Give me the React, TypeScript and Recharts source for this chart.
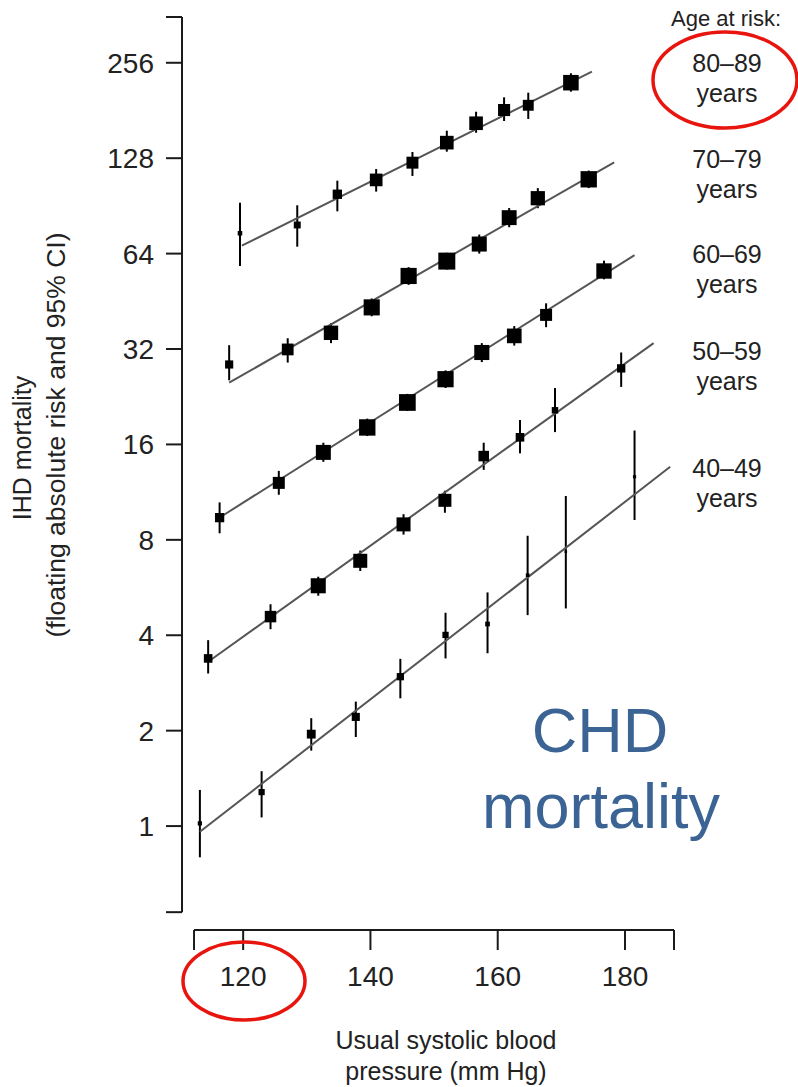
import { ComposedChart, XAxis, YAxis, Scatter, ErrorBar, ReferenceLine } from 'recharts';

// Floating absolute risk of IHD death by usual systolic blood pressure,
// one group of ten points per decade of age at risk.
const sbp8089 = [119.5, 128.5, 134.8, 140.9, 146.6, 152.0, 156.6, 161.0, 164.8, 171.5];
const risk8089 = [74.2, 78.8, 98.5, 109.3, 123.9, 143.3, 165.0, 181.6, 188.0, 221.5];
const lo8089 = [58.5, 67.3, 87.0, 100.4, 112.5, 134.2, 154.0, 167.7, 170.2, 207.5];
const hi8089 = [92.6, 90.9, 108.7, 118.3, 133.9, 156.3, 179.4, 199.2, 206.0, 237.2];

const sbp7079 = [117.8, 127.0, 133.8, 140.2, 146.0, 152.0, 157.1, 161.8, 166.3, 174.3];
const risk7079 = [28.6, 31.9, 36.0, 43.3, 54.4, 60.6, 68.6, 83.1, 95.7, 109.8];
const lo7079 = [25.5, 29.0, 33.4, 40.6, 51.0, 57.0, 64.0, 77.5, 89.0, 103.0];
const hi7079 = [32.9, 34.6, 38.6, 46.2, 58.0, 64.4, 73.5, 89.1, 103.0, 117.0];

const sbp6069 = [116.3, 125.6, 132.6, 139.5, 145.8, 151.8, 157.5, 162.6, 167.6, 176.7];
const risk6069 = [9.4, 12.1, 15.1, 18.1, 21.7, 25.7, 31.2, 35.2, 41.0, 56.4];
const lo6069 = [8.39, 11.1, 14.1, 17.0, 20.4, 24.1, 29.1, 32.8, 37.5, 53.1];
const hi6069 = [10.5, 13.2, 16.2, 19.3, 23.1, 27.4, 33.4, 37.8, 44.6, 60.8];

const sbp5059 = [114.5, 124.3, 131.8, 138.4, 145.2, 151.7, 157.8, 163.5, 169.0, 179.4];
const risk5059 = [3.38, 4.58, 5.73, 6.87, 8.95, 10.66, 14.7, 16.85, 20.5, 27.8];
const lo5059 = [3.03, 4.18, 5.33, 6.38, 8.31, 9.74, 13.3, 15.0, 17.5, 24.3];
const hi5059 = [3.86, 5.01, 6.12, 7.4, 9.64, 11.43, 16.2, 19.1, 24.1, 31.2];

const sbp4049 = [113.2, 122.9, 130.7, 137.7, 144.7, 151.8, 158.4, 164.7, 170.7, 181.5];
const risk4049 = [1.02, 1.28, 1.95, 2.21, 2.96, 4.01, 4.34, 6.19, 7.34, 12.65];
const lo4049 = [0.797, 1.065, 1.73, 1.91, 2.53, 3.38, 3.51, 4.63, 4.86, 9.24];
const hi4049 = [1.3, 1.49, 2.19, 2.47, 3.37, 4.71, 5.46, 8.24, 11.0, 17.7];

// fitted log-linear trend, start and end of each line
const fitSbp8089 = [119.8, 174.8];
const fitRisk8089 = [67.8, 240.0];
const fitSbp7079 = [117.8, 178.3];
const fitRisk7079 = [25.05, 124.2];
const fitSbp6069 = [116.5, 181.5];
const fitRisk6069 = [9.46, 63.3];
const fitSbp5059 = [114.5, 184.5];
const fitRisk5059 = [3.3, 33.4];
const fitSbp4049 = [113.2, 187.1];
const fitRisk4049 = [0.96, 13.6];

const ageBands = ['80–89', '70–79', '60–69', '50–59', '40–49'];
const yTickLabels = [1, 2, 4, 8, 16, 32, 64, 128, 256];
const xTickLabels = [120, 140, 160, 180];

// axis extents (axis lines stop short of the plot corner)
const X_DOMAIN: [number, number] = [110.39, 187.7];
const X_AXIS_START = 112.28;
const Y_DOMAIN: [number, number] = [0.47, 357];
const Y_AXIS_START = 0.535;

const FONT = '"Liberation Sans", Arial, sans-serif';
const INK = '#1a1a1a';

interface Point {
  x: number;
  y: number;
  err: [number, number];
  box: number;
}

// box side shrinks as the confidence interval widens
function buildPoints(sbp: number[], risk: number[], lo: number[], hi: number[]): Point[] {
  return sbp.map((x, i) => ({
    x,
    y: risk[i],
    err: [risk[i] - lo[i], hi[i] - risk[i]],
    box: Math.min(17, Math.max(2.5, 3 / Math.log2(hi[i] / lo[i]))),
  }));
}

function buildFit(sbp: number[], risk: number[]) {
  return sbp.map((x, i) => ({ x, y: risk[i] }));
}

const groups = [
  { points: buildPoints(sbp8089, risk8089, lo8089, hi8089), fit: buildFit(fitSbp8089, fitRisk8089) },
  { points: buildPoints(sbp7079, risk7079, lo7079, hi7079), fit: buildFit(fitSbp7079, fitRisk7079) },
  { points: buildPoints(sbp6069, risk6069, lo6069, hi6069), fit: buildFit(fitSbp6069, fitRisk6069) },
  { points: buildPoints(sbp5059, risk5059, lo5059, hi5059), fit: buildFit(fitSbp5059, fitRisk5059) },
  { points: buildPoints(sbp4049, risk4049, lo4049, hi4049), fit: buildFit(fitSbp4049, fitRisk4049) },
];

const BoxMarker = (props: any) => {
  const { cx, cy, payload } = props;
  const s = payload.box;
  return <rect x={cx - s / 2} y={cy - s / 2} width={s} height={s} fill="#000" />;
};

const NoMarker = () => <g />;

// baseline of each age band's first line, right-hand column
const bandLabelY = [72, 168, 263, 360, 477];

export default function App() {
  return (
    <div style={{ position: 'absolute', left: 0, top: 0, width: 798, height: 1087, background: '#fff' }}>
      <ComposedChart
        width={798}
        height={1087}
        margin={{ top: 17, right: 124, bottom: 0, left: 0 }}
      >
        <XAxis
          type="number"
          dataKey="x"
          domain={X_DOMAIN}
          allowDataOverflow
          ticks={[X_AXIS_START, ...xTickLabels, X_DOMAIN[1]]}
          interval={0}
          tickFormatter={(v: number) => (xTickLabels.includes(v) ? String(v) : '')}
          axisLine={false}
          tickLine={{ stroke: INK, strokeWidth: 2 }}
          tickSize={20}
          tickMargin={16}
          height={157}
          tick={{ fontFamily: FONT, fontSize: 28, fill: '#222' }}
        />
        <YAxis
          type="number"
          dataKey="y"
          scale="log"
          domain={Y_DOMAIN}
          allowDataOverflow
          ticks={[Y_AXIS_START, ...yTickLabels, Y_DOMAIN[1]]}
          interval={0}
          tickFormatter={(v: number) => (yTickLabels.includes(v) ? String(v) : '')}
          axisLine={false}
          tickLine={{ stroke: INK, strokeWidth: 2 }}
          tickSize={16}
          tickMargin={12}
          width={182}
          tick={{ fontFamily: FONT, fontSize: 28, fill: '#222' }}
        />
        <ReferenceLine
          segment={[
            { x: X_DOMAIN[0], y: Y_AXIS_START },
            { x: X_DOMAIN[0], y: Y_DOMAIN[1] },
          ]}
          stroke={INK}
          strokeWidth={2}
          ifOverflow="visible"
        />
        <ReferenceLine
          segment={[
            { x: X_AXIS_START, y: Y_DOMAIN[0] },
            { x: X_DOMAIN[1], y: Y_DOMAIN[0] },
          ]}
          stroke={INK}
          strokeWidth={2}
          ifOverflow="visible"
        />
        {groups.map((g, i) => (
          <Scatter
            key={`fit-${i}`}
            data={g.fit}
            line={{ stroke: '#555', strokeWidth: 2 }}
            shape={NoMarker}
            isAnimationActive={false}
          />
        ))}
        {groups.map((g, i) => (
          <Scatter key={`pts-${i}`} data={g.points} shape={BoxMarker} isAnimationActive={false}>
            <ErrorBar dataKey="err" direction="y" width={0} stroke="#000" strokeWidth={2} />
          </Scatter>
        ))}
      </ComposedChart>

      <svg
        width={798}
        height={1087}
        style={{ position: 'absolute', left: 0, top: 0, pointerEvents: 'none' }}
        fontFamily={FONT}
      >
        <text x={726} y={26} fontSize={22} fill="#222" textAnchor="middle">
          Age at risk:
        </text>
        {ageBands.map((band, i) => (
          <g key={band} fill="#222" fontSize={25} textAnchor="middle">
            <text x={727} y={bandLabelY[i]}>{band}</text>
            <text x={727} y={bandLabelY[i] + 30}>years</text>
          </g>
        ))}

        <g transform="rotate(-90)" fill="#222" textAnchor="middle">
          <text x={-448} y={31} fontSize={25}>IHD mortality</text>
          <text x={-435} y={65} fontSize={26.5}>(floating absolute risk and 95% CI)</text>
        </g>

        <g fill="#222" fontSize={25} textAnchor="middle">
          <text x={446} y={1049}>Usual systolic blood</text>
          <text x={446} y={1080}>pressure (mm Hg)</text>
        </g>

        <g fill="#3b6494" fontSize={63} textAnchor="middle">
          <text x={600} y={752}>CHD</text>
          <text x={601} y={828}>mortality</text>
        </g>

        <ellipse cx={725} cy={80} rx={72} ry={48} fill="none" stroke="#e8150f" strokeWidth={3.5} />
        <ellipse cx={244} cy={981} rx={61} ry={39} fill="none" stroke="#e8150f" strokeWidth={3.5} />
      </svg>
    </div>
  );
}
